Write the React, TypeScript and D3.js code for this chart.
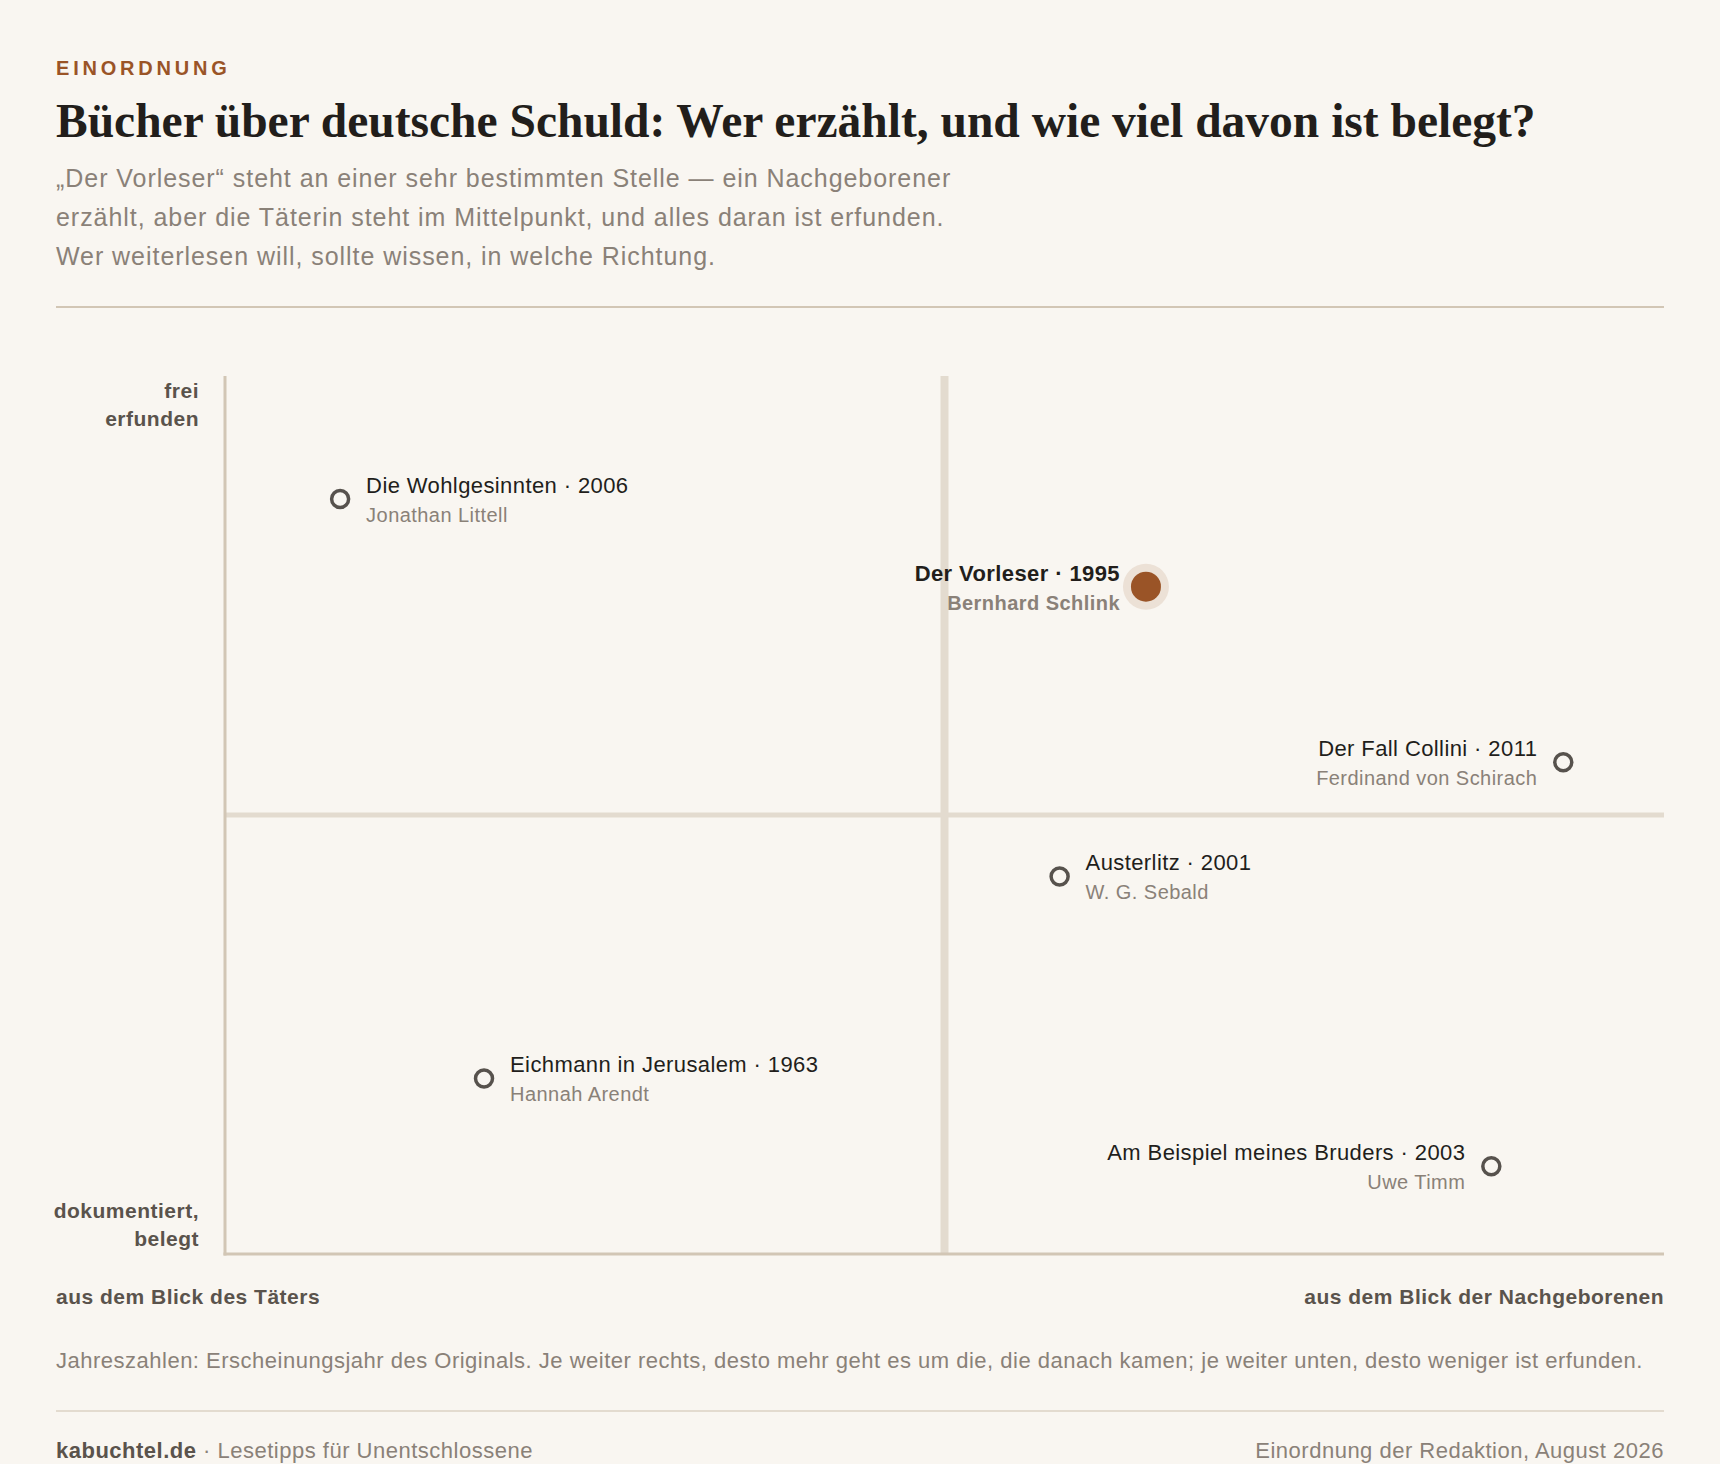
import React, { useEffect } from "react";
import * as d3 from "d3";

// book positions: x = 0 (Täter) .. 100 (Nachgeborene), y = 0 (belegt) .. 100 (erfunden)
const books = [
  "Die Wohlgesinnten",
  "Der Vorleser",
  "Der Fall Collini",
  "Austerlitz",
  "Eichmann in Jerusalem",
  "Am Beispiel meines Bruders",
];
const years = [2006, 1995, 2011, 2001, 1963, 2003];
const authors = [
  "Jonathan Littell",
  "Bernhard Schlink",
  "Ferdinand von Schirach",
  "W. G. Sebald",
  "Hannah Arendt",
  "Uwe Timm",
];
const perspective = [8, 64, 93, 58, 18, 88];
const invention = [86, 76, 56, 43, 20, 10];

const highlighted = "Der Vorleser";
const labelsLeft = ["Der Vorleser", "Der Fall Collini", "Am Beispiel meines Bruders"];

const subtitleLines = [
  "„Der Vorleser“ steht an einer sehr bestimmten Stelle — ein Nachgeborener",
  "erzählt, aber die Täterin steht im Mittelpunkt, und alles daran ist erfunden.",
  "Wer weiterlesen will, sollte wissen, in welche Richtung.",
];

const W = 1720;
const H = 1464;
const sans = "'Liberation Sans', Arial, sans-serif";
const serif = "'Liberation Serif', 'Times New Roman', serif";

const C = {
  bg: "#f9f6f1",
  ink: "#221e1b",
  grey: "#8a8178",
  axisText: "#5a534c",
  accent: "#9a5427",
  halo: "#ece1d6",
  axis: "#d2c6b5",
  quad: "#e3dbcf",
  ring: "#57524d",
};

const x = d3.scaleLinear().domain([0, 100]).range([225, 1664]);
const y = d3.scaleLinear().domain([0, 100]).range([1254, 376]);

export default function App() {
  useEffect(() => {
    document.body.style.margin = "0";
    document.body.style.background = C.bg;
  }, []);

  const points = books.map((b, i) => ({
    book: b,
    year: years[i],
    author: authors[i],
    cx: x(perspective[i]),
    cy: y(invention[i]),
    left: labelsLeft.includes(b),
    hi: b === highlighted,
  }));

  return (
    <svg width={W} height={H} style={{ display: "block", background: C.bg }}>
      <text x={56} y={75} fill={C.accent} fontFamily={sans} fontWeight={700} fontSize={20} letterSpacing={3.8}>
        EINORDNUNG
      </text>
      <text x={56} y={137} fill={C.ink} fontFamily={serif} fontWeight={700} fontSize={47.5}>
        Bücher über deutsche Schuld: Wer erzählt, und wie viel davon ist belegt?
      </text>
      {subtitleLines.map((l, i) => (
        <text key={i} x={56} y={187 + i * 39} fill={C.grey} fontFamily={sans} fontSize={25} letterSpacing={0.95}>
          {l}
        </text>
      ))}
      <line x1={56} x2={1664} y1={307} y2={307} stroke={C.axis} strokeWidth={2} />

      {/* quadrant lines */}
      <line x1={x(50)} x2={x(50)} y1={y(100)} y2={y(0)} stroke={C.quad} strokeWidth={8} />
      <line x1={x(0)} x2={x(100)} y1={y(50)} y2={y(50)} stroke={C.quad} strokeWidth={5} />

      {/* axes */}
      <line x1={x(0)} x2={x(0)} y1={y(100)} y2={y(0) + 1.5} stroke={C.axis} strokeWidth={3} />
      <line x1={x(0) - 1.5} x2={x(100)} y1={y(0)} y2={y(0)} stroke={C.axis} strokeWidth={3} />

      <g fontFamily={sans} fontWeight={700} fontSize={21} letterSpacing={0.5} fill={C.axisText}>
        <text x={199} y={398} textAnchor="end">frei</text>
        <text x={199} y={426} textAnchor="end">erfunden</text>
        <text x={199} y={1218} textAnchor="end">dokumentiert,</text>
        <text x={199} y={1246} textAnchor="end">belegt</text>
        <text x={56} y={1304}>aus dem Blick des Täters</text>
        <text x={1664} y={1304} textAnchor="end">aus dem Blick der Nachgeborenen</text>
      </g>

      {points.map((p) => {
        const dx = p.left ? -26 : 26;
        const anchor = p.left ? "end" : "start";
        return (
          <g key={p.book}>
            {p.hi ? (
              <>
                <circle cx={p.cx} cy={p.cy} r={23} fill={C.halo} />
                <circle cx={p.cx} cy={p.cy} r={15} fill={C.accent} />
              </>
            ) : (
              <circle cx={p.cx} cy={p.cy} r={8.5} fill={C.bg} stroke={C.ring} strokeWidth={3.5} />
            )}
            <text
              x={p.cx + dx}
              y={p.cy - 6}
              textAnchor={anchor}
              fontFamily={sans}
              fontSize={22}
              letterSpacing={0.4}
              fontWeight={p.hi ? 700 : 400}
              fill={C.ink}
            >
              {`${p.book} · ${p.year}`}
            </text>
            <text
              x={p.cx + dx}
              y={p.cy + 23}
              textAnchor={anchor}
              fontFamily={sans}
              fontSize={20}
              letterSpacing={0.45}
              fontWeight={p.hi ? 700 : 400}
              fill={C.grey}
            >
              {p.author}
            </text>
          </g>
        );
      })}

      <text x={56} y={1368} fill={C.grey} fontFamily={sans} fontSize={22} letterSpacing={0.5}>
        Jahreszahlen: Erscheinungsjahr des Originals. Je weiter rechts, desto mehr geht es um die, die danach kamen; je weiter unten, desto weniger ist erfunden.
      </text>
      <line x1={56} x2={1664} y1={1411} y2={1411} stroke={C.quad} strokeWidth={2} />
      <text x={56} y={1458} fontFamily={sans} fontSize={22} letterSpacing={0.5} fill={C.grey}>
        <tspan fontWeight={700} fill={C.axisText}>kabuchtel.de</tspan>
        <tspan> · Lesetipps für Unentschlossene</tspan>
      </text>
      <text x={1664} y={1458} textAnchor="end" fontFamily={sans} fontSize={22} letterSpacing={0.5} fill={C.grey}>
        Einordnung der Redaktion, August 2026
      </text>
    </svg>
  );
}
